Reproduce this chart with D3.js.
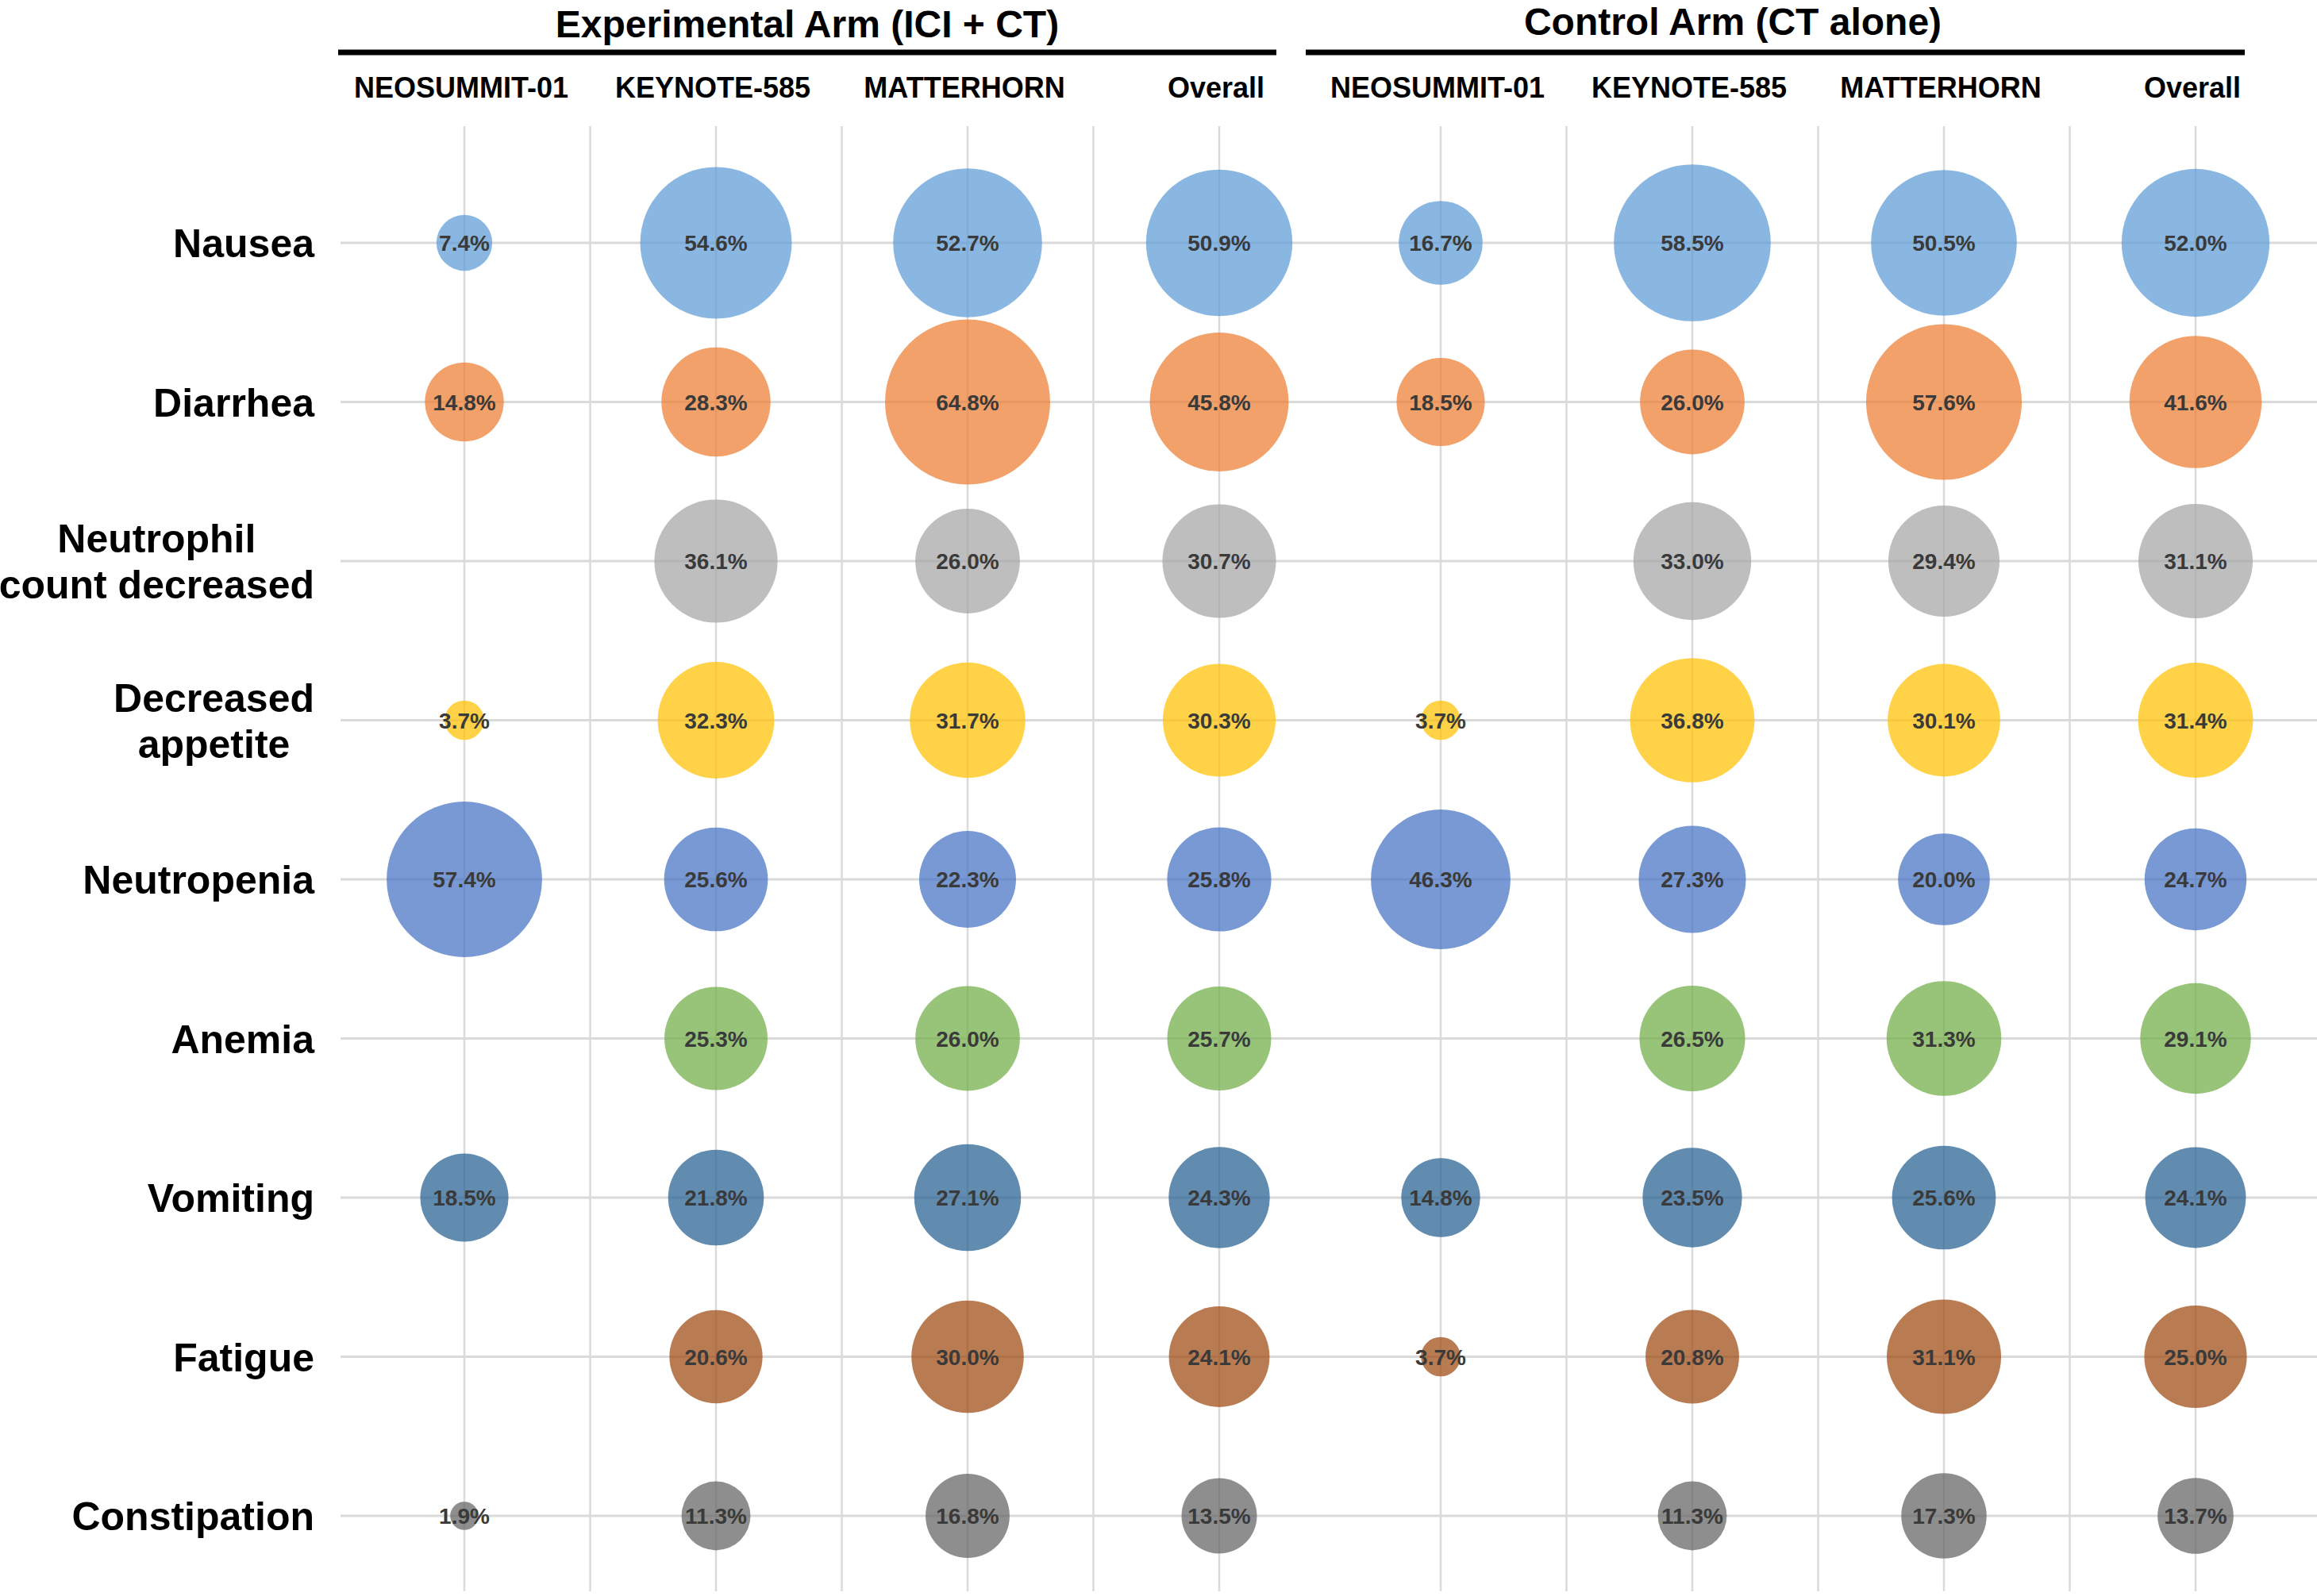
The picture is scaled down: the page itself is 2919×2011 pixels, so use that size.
<!DOCTYPE html>
<html>
<head>
<meta charset="utf-8">
<script src="https://cdn.jsdelivr.net/npm/d3@7"></script>
<style>
  body { margin: 0; background: #fff; }
  text { font-family: "Liberation Sans", Arial, sans-serif; font-weight: bold; }
</style>
</head>
<body>
<div id="vis"></div>
<script>
// canvas size
const W = 2919;
const H = 2011;

// categories
const effects = ['Nausea', 'Diarrhea', 'Neutrophil count decreased', 'Decreased appetite',
    'Neutropenia', 'Anemia', 'Vomiting', 'Fatigue', 'Constipation'];
const effectLines = [['Nausea'], ['Diarrhea'], ['Neutrophil', 'count decreased'], ['Decreased', 'appetite'],
    ['Neutropenia'], ['Anemia'], ['Vomiting'], ['Fatigue'], ['Constipation']];
const trials = ['NEOSUMMIT-01', 'KEYNOTE-585', 'MATTERHORN', 'Overall'];
const armTitles = ['Experimental Arm (ICI + CT)', 'Control Arm (CT alone)'];

// incidence (%) per effect, in trial order; null = not reported
const expValues = [
    [7.4, 54.6, 52.7, 50.9],
    [14.8, 28.3, 64.8, 45.8],
    [null, 36.1, 26.0, 30.7],
    [3.7, 32.3, 31.7, 30.3],
    [57.4, 25.6, 22.3, 25.8],
    [null, 25.3, 26.0, 25.7],
    [18.5, 21.8, 27.1, 24.3],
    [null, 20.6, 30.0, 24.1],
    [1.9, 11.3, 16.8, 13.5]
];
const ctrlValues = [
    [16.7, 58.5, 50.5, 52.0],
    [18.5, 26.0, 57.6, 41.6],
    [null, 33.0, 29.4, 31.1],
    [3.7, 36.8, 30.1, 31.4],
    [46.3, 27.3, 20.0, 24.7],
    [null, 26.5, 31.3, 29.1],
    [14.8, 23.5, 25.6, 24.1],
    [3.7, 20.8, 31.1, 25.0],
    [null, 11.3, 17.3, 13.7]
];

// one colour per effect
const effectColors = ['#5B9BD5', '#ED7D31', '#A5A5A5', '#FFC000', '#4472C4',
    '#70AD47', '#255E91', '#9E480E', '#636363'];

// layout
const arms = [
    { title: armTitles[0], values: expValues, xRange: [585, 1536], line: [426, 1608], titleX: 1017, titleY: 47 },
    { title: armTitles[1], values: ctrlValues, xRange: [1815, 2766], line: [1645, 2828], titleX: 2183, titleY: 44 }
];
const gridTop = 159, gridBottom = 2005, gridLeft = 429;
const labelRight = 396;

const svg = d3.select('#vis')
    .append('svg')
    .attr('width', W)
    .attr('height', H);

// y scale (effects)
const y = d3.scalePoint()
    .domain(effects)
    .range([306, 1910]);

// bubble area proportional to value
const r = d3.scaleSqrt()
    .domain([0, 64.8])
    .range([0, 104]);

const grid = svg.append('g').attr('class', 'grid');

// horizontal grid lines
grid.selectAll('.hline')
    .data(effects)
    .join('line')
    .attr('x1', gridLeft)
    .attr('x2', W)
    .attr('y1', d => y(d))
    .attr('y2', d => y(d))
    .attr('stroke', '#dadada')
    .attr('stroke-width', 3);

arms.forEach(arm => {
    const x = d3.scalePoint().domain(trials).range(arm.xRange);
    const step = x.step();

    // vertical lines at columns and between them
    const vx = trials.map(t => x(t))
        .concat(trials.slice(1).map(t => x(t) - step / 2));
    grid.selectAll(null)
        .data(vx)
        .join('line')
        .attr('x1', d => d)
        .attr('x2', d => d)
        .attr('y1', gridTop)
        .attr('y2', gridBottom)
        .attr('stroke', '#dadada')
        .attr('stroke-width', 2.5);

    // arm title + underline
    svg.append('text')
        .attr('x', arm.titleX)
        .attr('y', arm.titleY)
        .attr('text-anchor', 'middle')
        .attr('font-size', 48)
        .attr('fill', '#000')
        .text(arm.title);
    svg.append('line')
        .attr('x1', arm.line[0])
        .attr('x2', arm.line[1])
        .attr('y1', 66)
        .attr('y2', 66)
        .attr('stroke', '#000')
        .attr('stroke-width', 7);

    // column headers
    svg.selectAll(null)
        .data(trials)
        .join('text')
        .attr('x', d => x(d) - 4)
        .attr('y', 123)
        .attr('text-anchor', 'middle')
        .attr('font-size', 36)
        .attr('fill', '#000')
        .text(d => d);

    // flatten to cells
    const cells = [];
    effects.forEach((e, i) => {
        trials.forEach((t, j) => {
            const v = arm.values[i][j];
            if (v != null) cells.push({ effect: e, trial: t, value: v, color: effectColors[i] });
        });
    });

    const g = svg.append('g');
    g.selectAll('circle')
        .data(cells)
        .join('circle')
        .attr('cx', d => x(d.trial))
        .attr('cy', d => y(d.effect))
        .attr('r', d => r(d.value))
        .attr('fill', d => d.color)
        .attr('fill-opacity', 0.72);

    g.selectAll('text')
        .data(cells)
        .join('text')
        .attr('x', d => x(d.trial))
        .attr('y', d => y(d.effect))
        .attr('dy', '0.36em')
        .attr('text-anchor', 'middle')
        .attr('font-size', 28)
        .attr('fill', '#3a3a3a')
        .text(d => d.value.toFixed(1) + '%');
});

// row labels (multi-line ones centred as a block, block right-aligned)
effects.forEach((e, i) => {
    const lines = effectLines[i];
    const t = svg.append('text')
        .attr('font-size', 50)
        .attr('fill', '#000')
        .attr('text-anchor', 'middle');
    lines.forEach((l, k) => {
        t.append('tspan')
            .attr('y', y(e) + (k - (lines.length - 1) / 2) * 58)
            .attr('dy', '0.36em')
            .text(l);
    });
    const maxW = d3.max(t.selectAll('tspan').nodes(), n => n.getComputedTextLength());
    t.selectAll('tspan').attr('x', labelRight - maxW / 2);
});
</script>
</body>
</html>
